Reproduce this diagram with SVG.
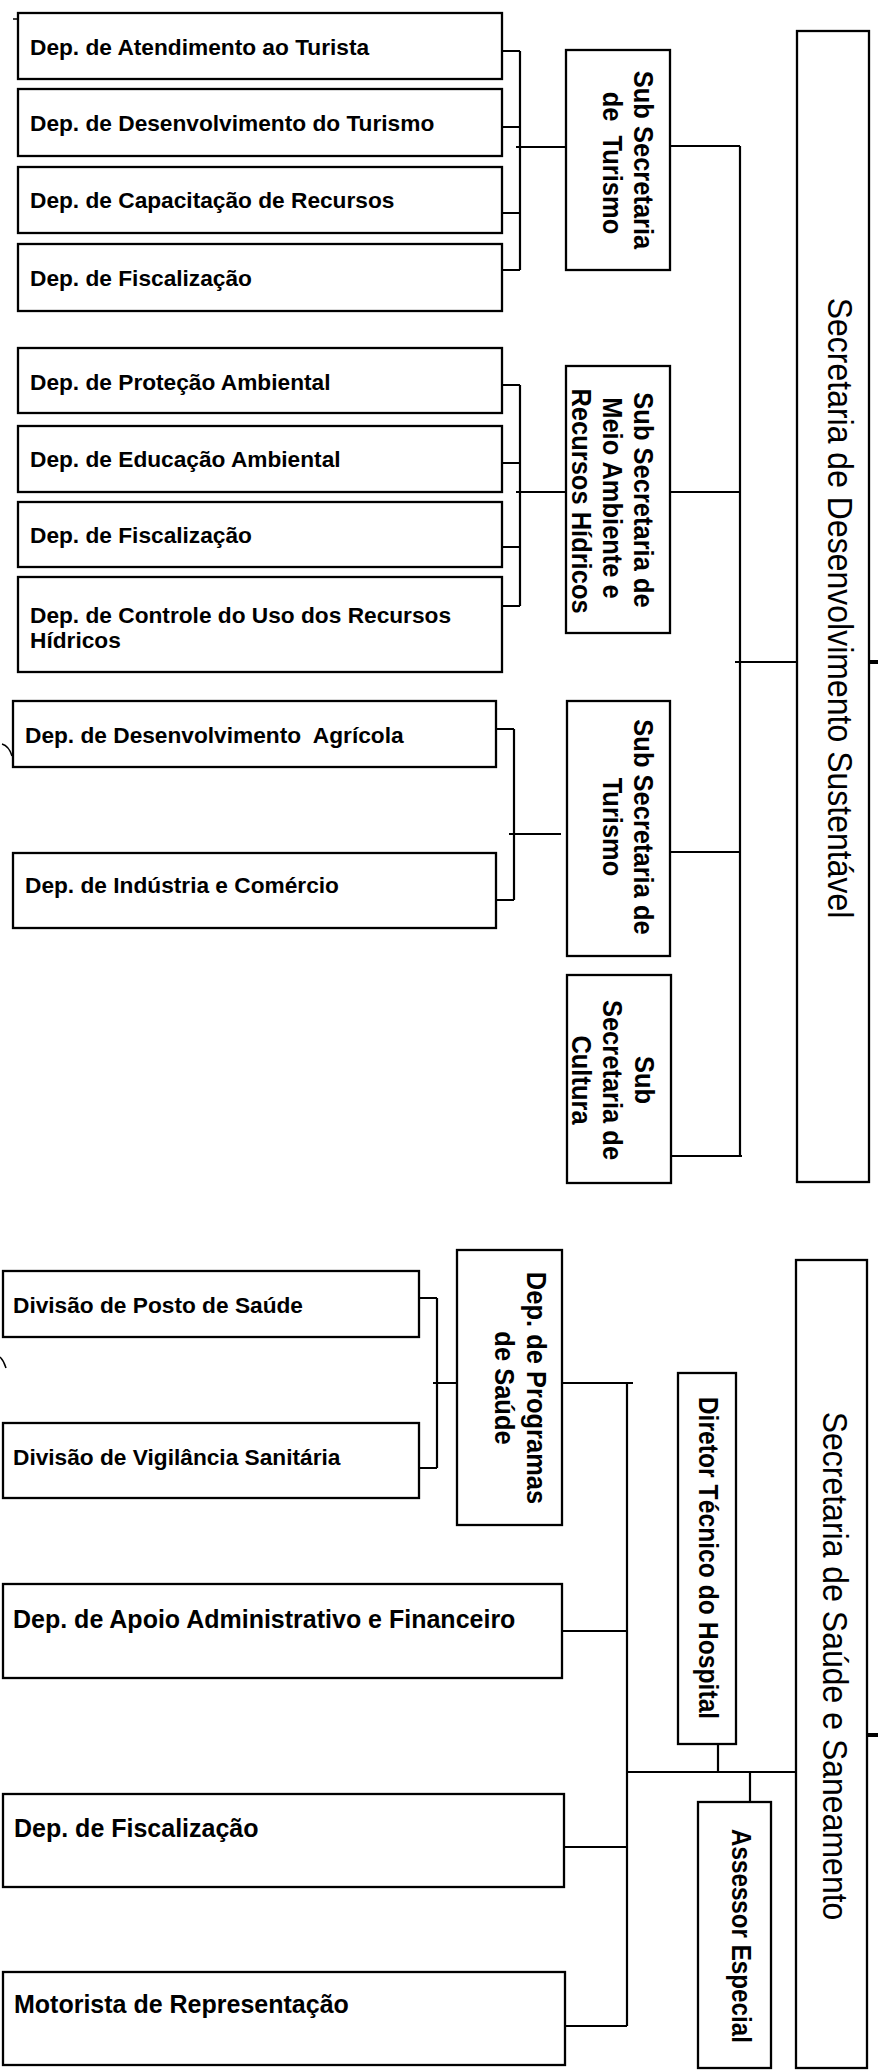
<svg xmlns="http://www.w3.org/2000/svg" width="878" height="2071" viewBox="0 0 878 2071">
<style>
.box{fill:#fff;stroke:#000;stroke-width:2.3}
.ln{fill:none;stroke:#000;stroke-width:2.2}
.t{font-family:"Liberation Sans",Arial,sans-serif;font-weight:bold;fill:#000}
.s{font-size:22.7px}
.m{font-size:25px}
.v{font-size:25.5px;text-anchor:middle}
.big{font-family:"Liberation Sans",Arial,sans-serif;font-size:32px;text-anchor:middle;fill:#000}
</style>
<rect width="878" height="2071" fill="#fff"/>
<g id="connectors">
<path class="ln" d="M502,51H520M502,127H520M502,213H520M502,270H520M520,51V270M516,147H566M670,146H740M740,146V1156"/>
<path class="ln" d="M502,385H520M502,463H520M502,547H520M502,606H520M520,385V606M516,492H566M670,492H740M735,662H798"/>
<path class="ln" d="M496,729H514M496,900H514M514,729V900M509,834H561M670,852H740M671,1156H742"/>
<path class="ln" d="M419,1298H437M419,1468H437M437,1298V1468M433,1383H457M562,1383H633M627,1383V2026M562,1631H627M627,1772H802M564,1847H627M565,2026H627M718,1744V1772M750,1772V1802"/>
<path class="ln" style="stroke-width:4" d="M869,662H878M867,1735H878"/>
</g>
<g id="marks">
<path class="ln" style="stroke-width:1.5" d="M13,19H20M2,744Q9,746 12,756M0,1357Q4,1361 6,1368"/>
</g>
<g id="sec-desenvolvimento">
<rect class="box" x="797" y="31" width="72" height="1151"/>
<text class="big" transform="translate(828,608) rotate(90) scale(1,1.12)">Secretaria de Desenvolvimento Sustentável</text>
</g>
<g id="sub-turismo">
<rect class="box" x="566" y="50" width="104" height="220"/>
<text class="t v" transform="translate(634,160) rotate(90) scale(1,1.12)">Sub Secretaria</text>
<text class="t v" xml:space="preserve" transform="translate(602.5,163) rotate(90) scale(1,1.12)">de  Turismo</text>
</g>
<g id="dep-atendimento"><rect class="box" x="18" y="13" width="484" height="66"/><text class="t s" x="30" y="55">Dep. de Atendimento ao Turista</text></g>
<g id="dep-desenv-turismo"><rect class="box" x="18" y="89" width="484" height="67"/><text class="t s" x="30" y="131">Dep. de Desenvolvimento do Turismo</text></g>
<g id="dep-capacitacao"><rect class="box" x="18" y="167" width="484" height="66"/><text class="t s" x="30" y="208">Dep. de Capacitação de Recursos</text></g>
<g id="dep-fiscalizacao-1"><rect class="box" x="18" y="244" width="484" height="67"/><text class="t s" x="30" y="286">Dep. de Fiscalização</text></g>
<g id="sub-meio-ambiente">
<rect class="box" x="566" y="366" width="104" height="267"/>
<text class="t v" transform="translate(634,500) rotate(90) scale(1,1.12)">Sub Secretaria de</text>
<text class="t v" transform="translate(602.5,498) rotate(90) scale(1,1.12)">Meio Ambiente e</text>
<text class="t v" transform="translate(572,501) rotate(90) scale(1,1.12)">Recursos Hídricos</text>
</g>
<g id="dep-protecao"><rect class="box" x="18" y="348" width="484" height="65"/><text class="t s" x="30" y="390">Dep. de Proteção Ambiental</text></g>
<g id="dep-educacao"><rect class="box" x="18" y="426" width="484" height="66"/><text class="t s" x="30" y="467">Dep. de Educação Ambiental</text></g>
<g id="dep-fiscalizacao-2"><rect class="box" x="18" y="502" width="484" height="65"/><text class="t s" x="30" y="543">Dep. de Fiscalização</text></g>
<g id="dep-controle"><rect class="box" x="18" y="577" width="484" height="95"/><text class="t s" x="30" y="623">Dep. de Controle do Uso dos Recursos</text><text class="t s" x="30" y="648">Hídricos</text></g>
<g id="sub-turismo-2">
<rect class="box" x="567" y="701" width="103" height="255"/>
<text class="t v" transform="translate(634,827) rotate(90) scale(1,1.12)">Sub Secretaria de</text>
<text class="t v" transform="translate(603,827) rotate(90) scale(1,1.12)">Turismo</text>
</g>
<g id="dep-agricola"><rect class="box" x="13" y="701" width="483" height="66"/><text class="t s" x="25" y="743" xml:space="preserve">Dep. de Desenvolvimento  Agrícola</text></g>
<g id="dep-industria"><rect class="box" x="13" y="853" width="483" height="75"/><text class="t s" x="25" y="893">Dep. de Indústria e Comércio</text></g>
<g id="sub-cultura">
<rect class="box" x="567" y="975" width="104" height="208"/>
<text class="t v" transform="translate(635,1080) rotate(90) scale(1,1.12)">Sub</text>
<text class="t v" transform="translate(603,1080) rotate(90) scale(1,1.12)">Secretaria de</text>
<text class="t v" transform="translate(572,1080) rotate(90) scale(1,1.12)">Cultura</text>
</g>
<g id="sec-saude">
<rect class="box" x="796" y="1260" width="71" height="808"/>
<text class="big" transform="translate(823,1666) rotate(90) scale(1,1.12)">Secretaria de Saúde e Saneamento</text>
</g>
<g id="dep-programas">
<rect class="box" x="457" y="1250" width="105" height="275"/>
<text class="t v" transform="translate(527,1388) rotate(90) scale(1,1.12)">Dep. de Programas</text>
<text class="t v" transform="translate(495,1388) rotate(90) scale(1,1.12)">de Saúde</text>
</g>
<g id="div-posto"><rect class="box" x="3" y="1271" width="416" height="66"/><text class="t s" x="13" y="1313">Divisão de Posto de Saúde</text></g>
<g id="div-vigilancia"><rect class="box" x="3" y="1423" width="416" height="75"/><text class="t s" x="13" y="1465">Divisão de Vigilância Sanitária</text></g>
<g id="dep-apoio"><rect class="box" x="3" y="1584" width="559" height="94"/><text class="t m" x="13" y="1628">Dep. de Apoio Administrativo e Financeiro</text></g>
<g id="dep-fiscalizacao-3"><rect class="box" x="3" y="1794" width="561" height="93"/><text class="t m" x="14" y="1837">Dep. de Fiscalização</text></g>
<g id="motorista"><rect class="box" x="3" y="1972" width="562" height="93"/><text class="t m" x="14" y="2013">Motorista de Representação</text></g>
<g id="diretor">
<rect class="box" x="678" y="1373" width="58" height="371"/>
<text class="t" style="font-size:24.7px;text-anchor:middle" transform="translate(699,1558) rotate(90) scale(1,1.12)">Diretor Técnico do Hospital</text>
</g>
<g id="assessor">
<rect class="box" x="698" y="1802" width="73" height="266"/>
<text class="t" style="font-size:24.2px;text-anchor:middle" transform="translate(732,1936) rotate(90) scale(1,1.12)">Assessor Especial</text>
</g>
</svg>
